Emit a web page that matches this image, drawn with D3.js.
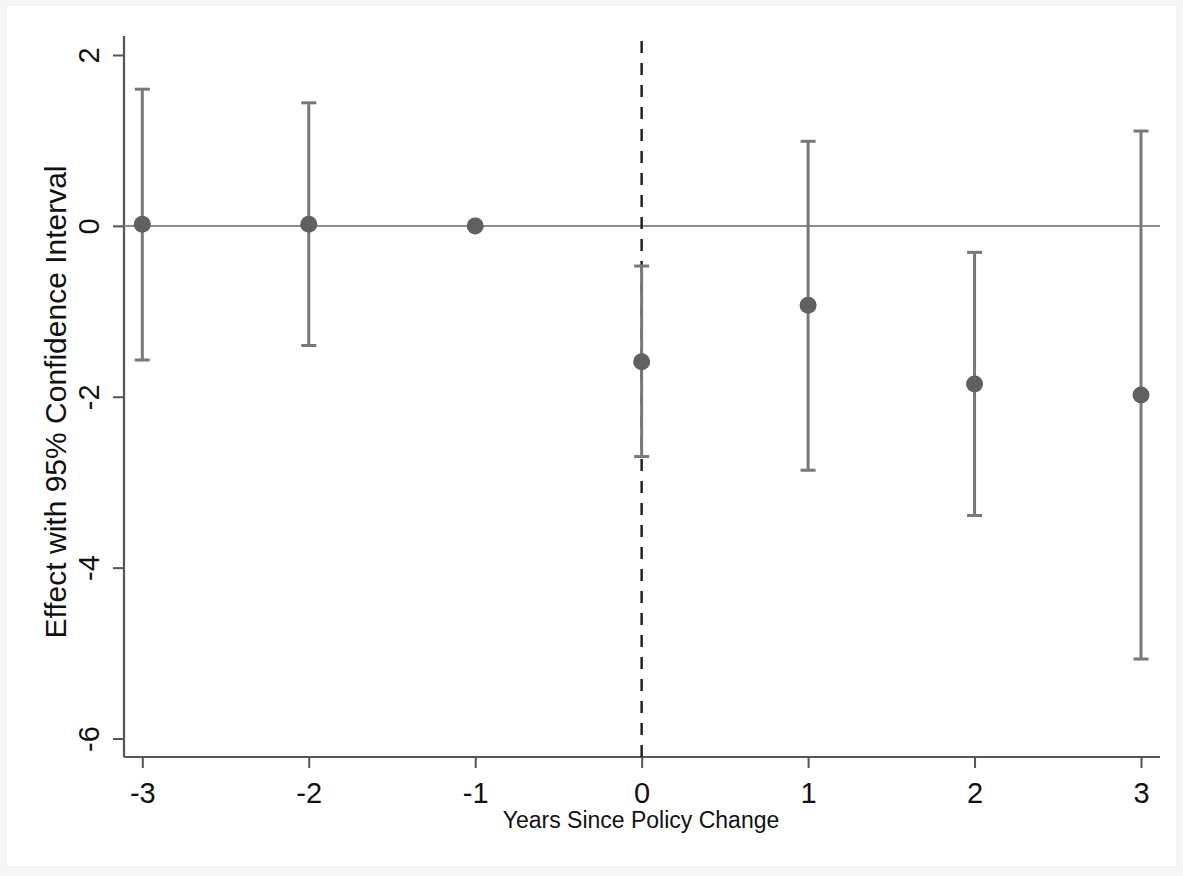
<!DOCTYPE html>
<html>
<head>
<meta charset="utf-8">
<script src="https://cdn.jsdelivr.net/npm/d3@7"></script>
<style>
  body { margin: 0; background: #f6f6f6; }
  text { font-family: Arial, "Liberation Sans", sans-serif; fill: #111; }
</style>
</head>
<body>
<div id="chart"></div>
<script>
// event study estimates
const years = [-3, -2, -1, 0, 1, 2, 3];
const effect = [0.02, 0.02, 0, -1.59, -0.93, -1.85, -1.98];
const ciLow = [-1.57, -1.40, null, -2.70, -2.86, -3.39, -5.07];
const ciHigh = [1.60, 1.44, null, -0.47, 0.99, -0.31, 1.11];
const yTicks = [2, 0, -2, -4, -6];

let width = 1183, height = 876;

// plain hyphen minus like the original
const fmt = d => String(d);

let svg = d3.select('#chart')
  .append('svg')
  .attr('width', width)
  .attr('height', height)

// white figure area with faint border
svg.append('rect')
  .attr('x', 6).attr('y', 5)
  .attr('width', 1171).attr('height', 862)
  .attr('fill', 'white')
  .attr('stroke', '#ececec')

let xScale = d3.scaleLinear()
  .domain([-3, 3])
  .range([142.3, 1141])

let yScale = d3.scaleLinear()
  .domain([2, -6])
  .range([55, 738.5])

const axisLeft = 124, axisBottom = 757;

// axes
let yAxis = svg.append('g')
  .attr('transform', `translate(${axisLeft}, 0)`)
  .call(d3.axisLeft(yScale).tickValues(yTicks).tickSize(11).tickFormat(fmt))
yAxis.select('.domain').remove()
yAxis.append('line')
  .attr('x1', 0).attr('x2', 0)
  .attr('y1', 36).attr('y2', axisBottom)
  .attr('stroke', '#555').attr('stroke-width', 2.2)
yAxis.selectAll('.tick line').attr('stroke', '#555').attr('stroke-width', 2)
yAxis.selectAll('.tick text')
  .attr('font-size', 29)
  .attr('fill', '#111')
  .attr('x', -35)
  .attr('y', 10)
  .attr('dy', 0)
  .attr('text-anchor', 'middle')
  .attr('transform', 'rotate(-90, -35, 0)')

let xAxis = svg.append('g')
  .attr('transform', `translate(0, ${axisBottom})`)
  .call(d3.axisBottom(xScale).tickValues(years).tickSize(11).tickPadding(14).tickFormat(fmt))
xAxis.select('.domain').remove()
xAxis.append('line')
  .attr('x1', axisLeft).attr('x2', 1160)
  .attr('y1', 0).attr('y2', 0)
  .attr('stroke', '#555').attr('stroke-width', 2.2)
xAxis.selectAll('.tick line').attr('stroke', '#555').attr('stroke-width', 2)
xAxis.selectAll('.tick text').attr('font-size', 29).attr('fill', '#111')

// axis titles
svg.append('text')
  .attr('x', 641)
  .attr('y', 828)
  .attr('text-anchor', 'middle')
  .attr('font-size', 23)
  .text('Years Since Policy Change')

svg.append('text')
  .attr('transform', 'translate(66, 402) rotate(-90)')
  .attr('text-anchor', 'middle')
  .attr('font-size', 30)
  .text('Effect with 95% Confidence Interval')

// zero line
svg.append('line')
  .attr('x1', axisLeft).attr('x2', 1160)
  .attr('y1', yScale(0)).attr('y2', yScale(0))
  .attr('stroke', '#8c8c8c').attr('stroke-width', 2)

// policy change marker
svg.append('line')
  .attr('x1', xScale(0)).attr('x2', xScale(0))
  .attr('y1', 41).attr('y2', axisBottom)
  .attr('stroke', '#222').attr('stroke-width', 2.5)
  .attr('stroke-dasharray', '12,10')

const rows = years.map((y, i) => ({year: y, est: effect[i], lo: ciLow[i], hi: ciHigh[i]}));
const withCI = rows.filter(d => d.lo !== null);

// error bars
svg.selectAll('.ci')
  .data(withCI)
  .enter()
  .append('line')
  .attr('x1', d => xScale(d.year)).attr('x2', d => xScale(d.year))
  .attr('y1', d => yScale(d.lo)).attr('y2', d => yScale(d.hi))
  .attr('stroke', '#787878').attr('stroke-width', 3)

;['lo', 'hi'].forEach(k => {
  svg.selectAll('.cap-' + k)
    .data(withCI)
    .enter()
    .append('line')
    .attr('x1', d => xScale(d.year) - 7.5).attr('x2', d => xScale(d.year) + 7.5)
    .attr('y1', d => yScale(d[k])).attr('y2', d => yScale(d[k]))
    .attr('stroke', '#787878').attr('stroke-width', 3)
})

// point estimates
svg.selectAll('.pt')
  .data(rows)
  .enter()
  .append('circle')
  .attr('cx', d => xScale(d.year))
  .attr('cy', d => yScale(d.est))
  .attr('r', 8.5)
  .attr('fill', '#606060')
</script>
</body>
</html>
